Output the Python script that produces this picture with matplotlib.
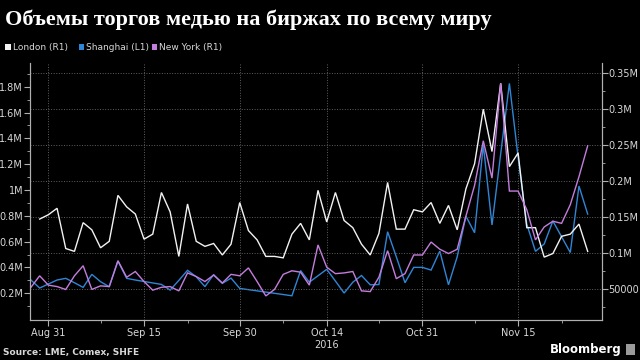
import matplotlib
matplotlib.use("Agg")
import matplotlib.pyplot as plt
import numpy as np
import pandas as pd
from matplotlib.patches import Rectangle

# trading days shown on the x axis (business-day scale)
dates = pd.bdate_range("2016-08-29", "2016-11-25")

nan = np.nan
# daily volumes, thousands of lots
london = [nan, 147, 153, 162, 106, 102, 142, 132, 107, 116,
          180, 164, 154, 119, 126, 184, 157, 95, 168, 116,
          109, 113, 97, 112, 170, 131, 118, 95, 95, 93,
          126, 141, 118, 187, 143, 184, 145, 135, 112, 97,
          127, 198, 133, 133, 160, 157, 170, 141, 166, 132,
          189, 224, 300, 241, 336, 220, 239, 135, 135, 94,
          99, 123, 126, 140, 102]
shanghai = [303, 241, 272, 303, 316, 282, 246, 347, 290, 251,
            450, 316, 303, nan, nan, 269, 225, 300, 378, 328,
            252, 345, 277, 318, 238, nan, nan, nan, nan, nan,
            181, 376, 286, 336, 386, 295, 202, 286, 338, 266,
            268, 677, 483, 282, 401, 401, 380, 527, 266, 483,
            798, 669, 1350, 729, 1280, 1826, 1255, 736, 525, 582,
            760, 638, 516, 1031, 814]
new_york = [52, 68, 55, 53, 49, 68, 82, 49, 54, 53,
            89, 66, 74, 60, 48, 52, 53, 47, 72, 67,
            60, 69, 58, 70, 68, 79, 60, 40, 49, 70,
            75, 73, 55, 111, 80, 71, 72, 74, 47, 46,
            66, 103, 64, 71, 97, 97, 115, 105, 99, 105,
            151, 194, 256, 204, 336, 186, 186, 160, 118, 136,
            144, 141, 167, 206, 249]

tick_days = ["2016-08-31", "2016-09-15", "2016-09-30", "2016-10-14", "2016-10-31", "2016-11-15"]
tick_labels = ["Aug 31", "Sep 15", "Sep 30", "Oct 14\n2016", "Oct 31", "Nov 15"]
minor_days = ["2016-09-08", "2016-09-22", "2016-10-07", "2016-10-24", "2016-11-08", "2016-11-22"]

left_ticks = [200e3, 400e3, 600e3, 800e3, 1e6, 1.2e6, 1.4e6, 1.6e6, 1.8e6]
left_labels = ["0.2M", "0.4M", "0.6M", "0.8M", "1M", "1.2M", "1.4M", "1.6M", "1.8M"]
right_ticks = [50e3, 100e3, 150e3, 200e3, 250e3, 300e3, 350e3]
right_labels = ["50000", "0.1M", "0.15M", "0.2M", "0.25M", "0.3M", "0.35M"]

c_london = "#f2f2f2"
c_shanghai = "#2f86d6"
c_newyork = "#c47ddc"
c_text = "#d8d8d8"
c_axis = "#b0b0b0"
c_grid = "#606060"

fig = plt.figure(figsize=(6.4, 3.6), dpi=100, facecolor="black")
ax = fig.add_axes([0.047, 0.111, 0.893, 0.714])
ax.set_facecolor("black")
ax2 = ax.twinx()

x = np.arange(len(dates))


def draw(axis, vals, color):
    s = pd.Series(vals, index=x, dtype=float) * 1000
    s = s.dropna()
    axis.plot(s.index, s.values, color=color, linewidth=1.0, solid_joinstyle="miter")


draw(ax, shanghai, c_shanghai)
draw(ax2, london, c_london)
draw(ax2, new_york, c_newyork)

ax.set_xlim(-0.1, 65.6)
ax.set_ylim(-7e3, 1984e3)
ax2.set_ylim(6.4e3, 364.3e3)

pos = [dates.get_loc(pd.Timestamp(d)) for d in tick_days]
mpos = [dates.get_loc(pd.Timestamp(d)) for d in minor_days]
ax.set_xticks(pos)
ax.set_xticklabels(tick_labels)
ax.set_xticks(mpos, minor=True)

ax.set_yticks(left_ticks)
ax.set_yticklabels(left_labels)
ax.set_yticks(np.arange(100e3, 1.95e6, 200e3), minor=True)
ax2.set_yticks(right_ticks)
ax2.set_yticklabels(right_labels)
ax2.set_yticks(np.arange(25e3, 364e3, 50e3), minor=True)

for a in (ax, ax2):
    a.tick_params(colors=c_axis, labelcolor=c_text, labelsize=7, length=4, width=0.8)
    a.tick_params(which="minor", colors=c_axis, length=2, width=0.6)
    a.spines["top"].set_visible(False)
    for sp in ("left", "right", "bottom"):
        a.spines[sp].set_color(c_axis)
        a.spines[sp].set_linewidth(0.8)
ax.tick_params(axis="y", pad=1)
ax2.tick_params(axis="y", pad=1)
ax.tick_params(axis="x", pad=2)

ax.grid(axis="x", color=c_grid, linestyle=":", linewidth=0.7)
ax2.grid(axis="y", color=c_grid, linestyle=":", linewidth=0.7)
ax.set_axisbelow(True)
ax2.set_axisbelow(True)

# title
fig.text(0.008, 0.945, "Объемы торгов медью на биржах по всему миру", color="white",
         fontsize=16, fontweight="bold", family="Liberation Serif", va="center")

# legend
items = [("London (R1)", c_london, 0.008), ("Shanghai (L1)", c_shanghai, 0.123),
         ("New York (R1)", c_newyork, 0.237)]
for label, col, lx in items:
    fig.patches.append(Rectangle((lx, 0.862), 0.009, 0.016, transform=fig.transFigure,
                                 facecolor=col, edgecolor="none"))
    fig.text(lx + 0.012, 0.869, label, color=c_text, fontsize=6.5, va="center")

# footer
fig.text(0.005, 0.022, "Source: LME, Comex, SHFE", color=c_text, fontsize=6.5,
         fontweight="bold", va="center")
fig.text(0.972, 0.028, "Bloomberg", color="white", fontsize=8.5, fontweight="bold",
         va="center", ha="right")
fig.patches.append(Rectangle((0.978, 0.014), 0.014, 0.03, transform=fig.transFigure,
                             facecolor="#9a9a9a", edgecolor="none"))

fig.savefig("out.png", dpi=100, facecolor="black")
